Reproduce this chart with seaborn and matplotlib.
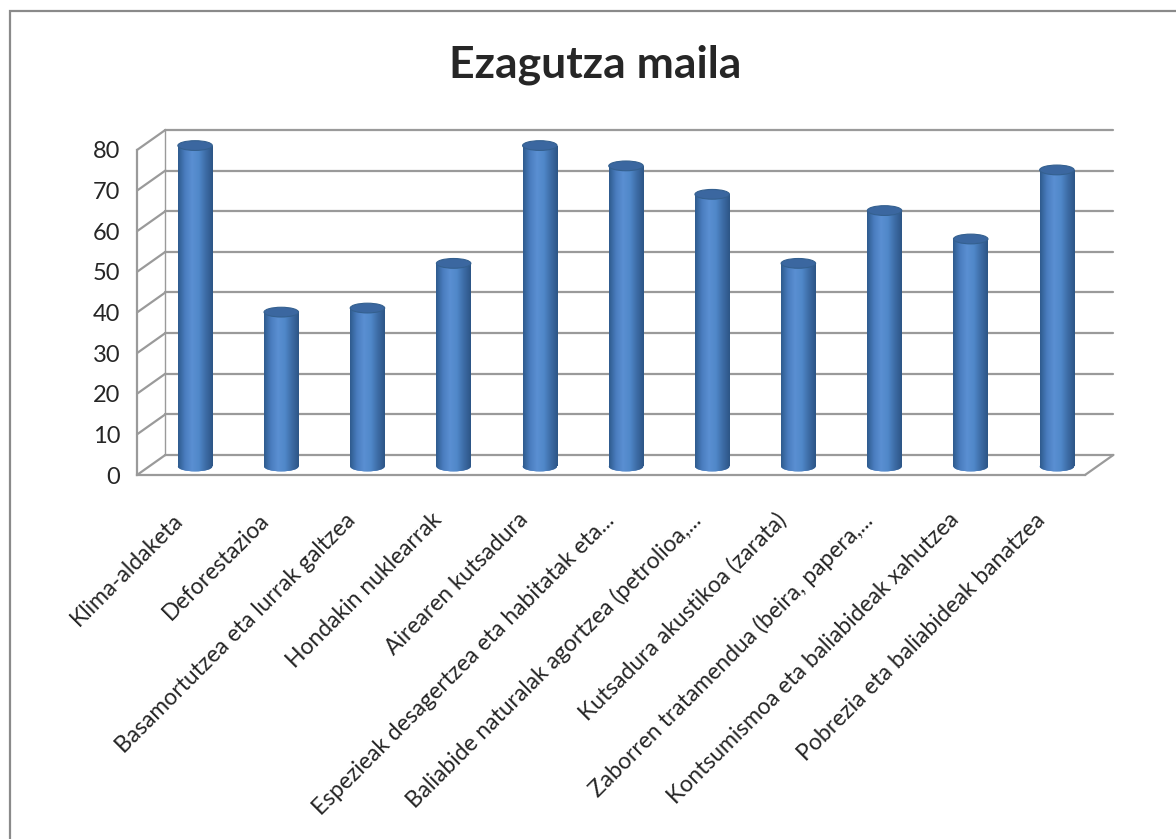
import pandas as pd
import matplotlib.pyplot as plt
import seaborn as sns
import numpy as np
from matplotlib.patches import Ellipse, Rectangle
from matplotlib.transforms import ScaledTranslation
from matplotlib.colors import LinearSegmentedColormap

# Datuak (grafikotik irakurrita)
gaiak = ["Klima-aldaketa", "Deforestazioa", "Basamortutzea eta lurrak galtzea",
         "Hondakin nuklearrak", "Airearen kutsadura",
         "Espezieak desagertzea eta habitatak eta...",
         "Baliabide naturalak agortzea (petrolioa,...",
         "Kutsadura akustikoa (zarata)", "Zaborren tratamendua (beira, papera,...",
         "Kontsumismoa eta baliabideak xahutzea", "Pobrezia eta baliabideak banatzea"]
balioak = [79, 38, 39, 50, 79, 74, 67, 50, 63, 56, 73]
y_tikak = [0, 10, 20, 30, 40, 50, 60, 70, 80]

df = pd.DataFrame({"gaia": gaiak, "balioa": balioak})

sns.set_style("white")
plt.rcParams['font.family'] = ['Lato', 'DejaVu Sans']

fig = plt.figure(figsize=(11.76, 8.39), dpi=100)
ax = fig.add_axes([137/1176, 1-475/839, 948/1176, 325/839])

# kanpoko markoa
fig.add_artist(Rectangle((10/1176, -0.1), 1.2, 1.1-11/839, transform=fig.transFigure,
                         fill=False, edgecolor="#8a8a8a", linewidth=1.6))

# 3D itxura: atzeko horma eta lurra
gris = "#9a9a9a"
dx, dy = 0.33, 4.95
n = len(gaiak)
for v in y_tikak:
    ax.plot([-0.5 + dx, n - 0.5 + dx], [v + dy, v + dy], color=gris, lw=1.6, clip_on=False, zorder=0)
    ax.plot([-0.5, -0.5 + dx], [v, v + dy], color=gris, lw=1.6, clip_on=False, zorder=0)
ax.plot([n - 0.5, n - 0.5 + dx], [0, dy], color=gris, lw=1.6, clip_on=False, zorder=0)
ax.plot([-0.5 + dx, -0.5 + dx], [0 + dy, 80 + dy], color=gris, lw=1.0, clip_on=False, zorder=0)

# barrak
sns.barplot(x="gaia", y="balioa", data=df, color="#4F81BD", width=0.4, ax=ax, zorder=2)

# zilindro itxura
offset = ax.transData + ScaledTranslation(0.15, 0.085, fig.dpi_scale_trans)
cmap = LinearSegmentedColormap.from_list("zil", ["#2f5b8e", "#4a7dbf", "#5a8fd2", "#5088c9", "#3d6ca6", "#2d5586"])
grad = np.linspace(0, 1, 100).reshape(1, -1)
for p in list(ax.patches):
    p.set_transform(offset)
    p.set_clip_on(False)
    x0, w, h = p.get_x(), p.get_width(), p.get_height()
    p.set_edgecolor("none")
    # beheko ertza
    beh = Ellipse((x0 + w/2, 0), w, 2.4, facecolor="#4a7dbf", edgecolor="none", zorder=2)
    beh.set_transform(offset)
    beh.set_clip_on(False)
    ax.add_patch(beh)
    for forma, ext in [(p, [x0, x0 + w, 0, h]), (beh, [x0, x0 + w, -1.3, 1.3])]:
        im = ax.imshow(grad, cmap=cmap, extent=ext, aspect="auto", zorder=3)
        im.set_transform(offset)
        im.set_clip_box(None)
        im.set_clip_path(forma)
    goi = Ellipse((x0 + w/2, h), w, 2.4, facecolor="#3b67a0", edgecolor="#34608f", lw=0.8, zorder=4)
    goi.set_transform(offset)
    goi.set_clip_on(False)
    ax.add_patch(goi)

ax.set_xlim(-0.5, n - 0.5)
ax.set_ylim(0, 80)
ax.set_yticks(y_tikak)
ax.set_xticks(range(n))
ax.set_xticklabels(gaiak, rotation=45, ha="right", va="center", rotation_mode="anchor", fontsize=16.5)
ax.set_xticks(np.arange(-0.5, n, 1), minor=True)
ax.tick_params(axis="x", which="major", length=0, pad=30)
ax.tick_params(axis="x", which="minor", length=6, color=gris, width=1.6, direction="out")
ax.tick_params(axis="y", length=6, color=gris, width=1.6, direction="out", labelsize=17, pad=6)
ax.set_xlabel("")
ax.set_ylabel("")
for s in ["top", "right"]:
    ax.spines[s].set_visible(False)
for s in ["left", "bottom"]:
    ax.spines[s].set_color(gris)
    ax.spines[s].set_linewidth(1.6)
ax.patch.set_alpha(0)

fig.text(595/1176, 1-65/839, "Ezagutza maila", ha="center", va="center", fontsize=32, fontweight="bold")

plt.savefig("out.png", dpi=100)
